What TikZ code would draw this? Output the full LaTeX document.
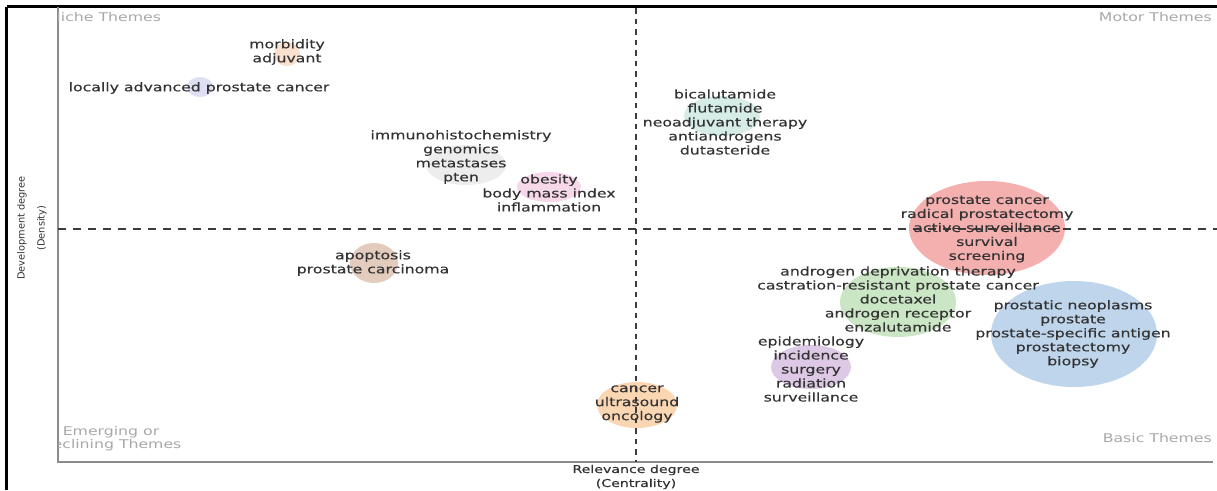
\documentclass[tikz,border=0pt]{standalone}
\usepackage{fontspec}
\newfontfamily\wordfont[FakeStretch=1.31,FakeBold=0.35]{DejaVu Sans}
\newfontfamily\quadfont[FakeStretch=1.31]{DejaVu Sans}
\newfontfamily\axisfont{DejaVu Sans}
\usetikzlibrary{shapes.geometric}

\definecolor{wordgray}{HTML}{333333}
\definecolor{quadgray}{HTML}{A8A8A8}
\definecolor{axisgray}{HTML}{8C8C8C}
\definecolor{dashgray}{HTML}{3C3C3C}
\definecolor{cRed}{HTML}{F4B0AF}
\definecolor{cGreen}{HTML}{CBE6C4}
\definecolor{cBlue}{HTML}{BFD5EB}
\definecolor{cPurple}{HTML}{DDC9E6}
\definecolor{cOrange}{HTML}{FAD6B3}
\definecolor{cTan}{HTML}{E3CBBE}
\definecolor{cPeach}{HTML}{FAE0CF}
\definecolor{cLav}{HTML}{DCE0F2}
\definecolor{cGrey}{HTML}{EDEDED}
\definecolor{cPink}{HTML}{F6D8EA}
\definecolor{cTeal}{HTML}{D6EDE7}

\tikzset{
  bubble/.style n args={3}{ellipse, draw=none, fill=#1, inner sep=0pt,
    minimum width=#2, minimum height=#3},
  words/.style={font=\wordfont\fontsize{12}{14}\selectfont, text=wordgray,
    align=center, inner sep=0pt},
  quadlabel/.style={font=\quadfont\fontsize{12}{13}\selectfont, text=quadgray,
    inner sep=0pt},
  axislabel/.style={font=\wordfont\fontsize{10.8}{14}\selectfont, text=wordgray,
    align=center, inner sep=0pt},
  sidelabel/.style={font=\axisfont\fontsize{9.8}{19}\selectfont, text=wordgray,
    inner sep=0pt},
  axisline/.style={draw=axisgray, line width=1.2pt},
  frameline/.style={draw=black, line width=2.2pt},
  splitline/.style={draw=dashgray, line width=1.2pt},
}

\begin{document}
\begin{tikzpicture}[x=1pt, y=-1pt]
\useasboundingbox (0,0) rectangle (1217,490);
\fill[white] (0,0) rectangle (1217,490);

% cluster bubbles
\node[bubble={cPeach}{26pt}{24pt}]   (bMorb) at (287,54) {};
\node[bubble={cLav}{26pt}{20pt}]     (bLoc)  at (200,87) {};
\node[bubble={cGrey}{80pt}{40pt}]    (bImm)  at (466,165) {};
\node[bubble={cPink}{64pt}{30pt}]    (bObe)  at (549,187) {};
\node[bubble={cTeal}{76pt}{40pt}]    (bBica) at (722,116) {};
\node[bubble={cTan}{48pt}{40pt}]     (bApo)  at (374,263) {};
\node[bubble={cRed}{156pt}{94pt}]    (bPca)  at (987,228) {};
\node[bubble={cGreen}{116pt}{70pt}]  (bAdt)  at (898,302) {};
\node[bubble={cBlue}{166pt}{106pt}]  (bNeo)  at (1074,334) {};
\node[bubble={cPurple}{80pt}{44pt}]  (bEpi)  at (811,367) {};
\node[bubble={cOrange}{80pt}{46pt}]  (bCan)  at (637,405) {};

% frame of the screenshot
\draw[frameline] (6.5,6.5) -- (1217,6.5);
\draw[frameline] (6.5,6.5) -- (6.5,490);

% axes
\draw[axisline] (58,7) -- (58,462) -- (1213,462);

% quadrant split lines
\draw[splitline, dash pattern=on 5.5pt off 5pt] (636,8) -- (636,462);
\draw[splitline, dash pattern=on 8pt off 7pt] (58,229) -- (1217,229);

% quadrant names
\begin{scope}
  \clip (58,7) rectangle (1217,490);
  \node[quadlabel, anchor=west] (qNiche) at (49,17) {Niche Themes};
  \node[quadlabel, align=center] (qEmerg) at (111,439) {Emerging or\\Declining Themes};
\end{scope}
\node[quadlabel, anchor=east] (qMotor) at (1212,17) {Motor Themes};
\node[quadlabel, anchor=east] (qBasic) at (1212,438) {Basic Themes};

% axis titles
\node[axislabel] (xTitle) at (636,477) {Relevance degree\\(Centrality)};
\node[sidelabel, rotate=90] (yTitle1) at (22,228) {Development degree};
\node[sidelabel, rotate=90] (yTitle2) at (42,228) {(Density)};

% cluster keywords
\node[words] (tMorb) at (287,52) {morbidity\\adjuvant};
\node[words] (tLoc)  at (199,88) {locally advanced prostate cancer};
\node[words] (tImm)  at (461,157) {immunohistochemistry\\genomics\\metastases\\pten};
\node[words] (tObe)  at (549,193) {obesity\\body mass index\\inflammation};
\node[words] (tBica) at (725,122) {bicalutamide\\flutamide\\neoadjuvant therapy\\antiandrogens\\dutasteride};
\node[words] (tApo)  at (373,263) {apoptosis\\prostate carcinoma};
\node[words] (tPca)  at (987,229) {prostate cancer\\radical prostatectomy\\active surveillance\\survival\\screening};
\node[words] (tAdt)  at (898,299) {androgen deprivation therapy\\castration-resistant prostate cancer\\docetaxel\\androgen receptor\\enzalutamide};
\node[words] (tNeo)  at (1073,334) {prostatic neoplasms\\prostate\\prostate-specific antigen\\prostatectomy\\biopsy};
\node[words] (tEpi)  at (811,369) {epidemiology\\incidence\\surgery\\radiation\\surveillance};
\node[words] (tCan)  at (637,404) {cancer\\ultrasound\\oncology};
\end{tikzpicture}
\end{document}
